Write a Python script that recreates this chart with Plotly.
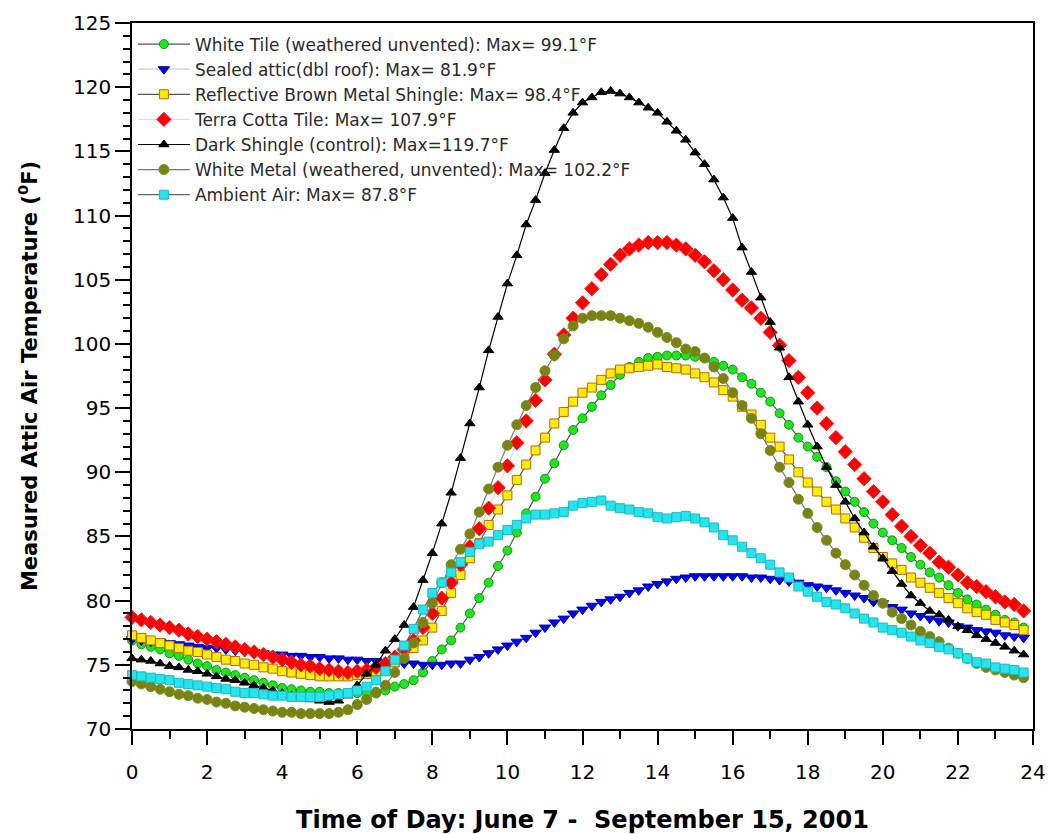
import plotly.graph_objects as go

# Time of day, 15-minute readings
hours = [h / 4 for h in range(96)]

white_tile = [
    76.9, 76.6, 76.4, 76.2, 75.9, 75.7, 75.4, 75.1, 74.9, 74.6, 74.4, 74.2,
    74.0, 73.8, 73.6, 73.4, 73.2, 73.1, 73.0, 72.9, 72.9, 72.8, 72.8, 72.8,
    72.8, 72.8, 72.9, 73.0, 73.3, 73.5, 73.8, 74.4, 75.3, 76.2, 76.9, 77.9,
    79.0, 80.2, 81.4, 82.7, 83.9, 85.3, 86.8, 88.1, 89.5, 90.7, 92.1, 93.3,
    94.2, 95.1, 96.0, 96.8, 97.6, 98.2, 98.6, 98.9, 99.0, 99.1, 99.1, 99.1,
    99.0, 98.9, 98.6, 98.3, 98.0, 97.4, 96.9, 96.2, 95.5, 94.6, 93.7, 92.7,
    92.0, 91.2, 90.4, 89.3, 88.5, 87.7, 86.9, 86.0, 85.3, 84.7, 84.1, 83.4,
    82.8, 82.2, 81.8, 81.2, 80.6, 80.1, 79.7, 79.3, 78.9, 78.5, 78.3, 77.9,
]
sealed_attic = [
    77.0, 76.9, 76.8, 76.8, 76.7, 76.6, 76.5, 76.4, 76.3, 76.3, 76.2, 76.1,
    76.0, 76.0, 75.9, 75.8, 75.8, 75.7, 75.7, 75.6, 75.6, 75.5, 75.5, 75.4,
    75.4, 75.3, 75.3, 75.2, 75.2, 75.1, 75.1, 75.0, 75.0, 75.0, 75.1, 75.1,
    75.4, 75.6, 75.9, 76.2, 76.5, 76.8, 77.1, 77.5, 77.9, 78.3, 78.6, 79.0,
    79.3, 79.6, 79.9, 80.1, 80.3, 80.6, 80.8, 81.1, 81.3, 81.5, 81.7, 81.8,
    81.9, 81.9, 81.9, 81.9, 81.9, 81.9, 81.8, 81.8, 81.7, 81.6, 81.5, 81.4,
    81.2, 81.1, 81.0, 80.8, 80.6, 80.4, 80.2, 79.9, 79.8, 79.5, 79.3, 79.0,
    78.8, 78.6, 78.4, 78.3, 78.0, 77.9, 77.7, 77.6, 77.5, 77.3, 77.2, 77.1,
]
reflective_brown = [
    77.3, 77.1, 76.9, 76.7, 76.5, 76.3, 76.1, 76.0, 75.8, 75.6, 75.4, 75.3,
    75.1, 75.0, 74.8, 74.7, 74.5, 74.4, 74.3, 74.2, 74.1, 74.1, 74.1, 74.1,
    74.2, 74.3, 74.5, 74.8, 75.2, 75.7, 76.3, 76.9, 77.9, 79.2, 80.6, 82.0,
    83.3, 84.5, 85.9, 87.1, 88.2, 89.4, 90.6, 91.7, 92.7, 93.8, 94.7, 95.5,
    96.2, 96.6, 97.2, 97.7, 98.0, 98.1, 98.2, 98.3, 98.4, 98.2, 98.1, 98.0,
    97.7, 97.4, 97.0, 96.4, 95.9, 95.1, 94.5, 93.7, 92.7, 92.0, 91.0, 90.0,
    89.2, 88.5, 87.7, 87.1, 86.4, 85.7, 84.9, 84.1, 83.4, 82.9, 82.4, 81.8,
    81.4, 81.0, 80.6, 80.2, 79.8, 79.4, 79.1, 78.9, 78.5, 78.3, 78.1, 77.7,
]
terra_cotta = [
    78.7, 78.5, 78.3, 78.1, 77.9, 77.7, 77.4, 77.2, 77.0, 76.8, 76.6, 76.4,
    76.2, 76.0, 75.8, 75.6, 75.4, 75.2, 75.0, 74.9, 74.7, 74.6, 74.5, 74.4,
    74.5, 74.6, 74.8, 75.1, 75.6, 76.2, 76.9, 77.9, 79.0, 80.2, 81.4, 82.8,
    84.2, 85.6, 87.2, 88.8, 90.5, 92.3, 94.0, 95.6, 97.2, 99.2, 100.7, 102.0,
    103.2, 104.3, 105.4, 106.2, 106.9, 107.4, 107.7, 107.9, 107.9, 107.9, 107.7, 107.4,
    106.9, 106.4, 105.7, 105.0, 104.2, 103.4, 102.8, 102.0, 100.9, 99.9, 98.7, 97.4,
    96.2, 95.0, 93.8, 92.7, 91.6, 90.6, 89.5, 88.5, 87.7, 86.7, 85.8, 85.0,
    84.3, 83.7, 83.0, 82.6, 82.0, 81.4, 81.1, 80.7, 80.3, 79.9, 79.7, 79.2,
]
dark_shingle = [
    75.5, 75.4, 75.3, 75.1, 74.9, 74.8, 74.6, 74.5, 74.3, 74.1, 73.9, 73.8,
    73.6, 73.4, 73.2, 73.0, 72.8, 72.6, 72.5, 72.3, 72.2, 72.1, 72.2, 72.6,
    73.4, 74.3, 75.0, 76.1, 77.0, 78.1, 79.5, 81.6, 83.7, 86.0, 88.4, 91.1,
    93.8, 96.6, 99.5, 102.1, 104.7, 106.9, 109.3, 111.2, 113.3, 115.1, 116.8, 118.0,
    118.8, 119.2, 119.6, 119.7, 119.5, 119.2, 118.8, 118.4, 118.0, 117.3, 116.6, 115.9,
    114.9, 114.0, 112.8, 111.4, 109.8, 107.5, 105.6, 103.6, 101.7, 99.7, 97.4, 95.5,
    93.7, 92.0, 90.4, 89.0, 87.7, 86.4, 85.3, 84.2, 83.3, 82.3, 81.3, 80.4,
    79.8, 79.2, 78.9, 78.5, 78.0, 77.7, 77.3, 77.0, 76.7, 76.4, 76.1, 75.8,
]
white_metal = [
    73.7, 73.5, 73.3, 73.1, 72.9, 72.7, 72.6, 72.4, 72.3, 72.1, 72.0, 71.8,
    71.7, 71.6, 71.5, 71.4, 71.3, 71.3, 71.2, 71.2, 71.2, 71.2, 71.3, 71.5,
    71.9, 72.3, 72.8, 73.4, 74.4, 75.5, 76.7, 78.3, 79.8, 81.4, 82.8, 84.0,
    85.2, 86.9, 88.7, 90.4, 92.1, 93.7, 95.2, 96.6, 97.9, 99.1, 100.4, 101.4,
    102.0, 102.2, 102.2, 102.2, 102.0, 101.8, 101.6, 101.3, 100.9, 100.5, 100.1, 99.6,
    99.4, 98.9, 98.2, 97.3, 96.2, 95.2, 94.2, 93.0, 91.7, 90.4, 89.2, 87.9,
    86.8, 85.7, 84.7, 83.7, 82.8, 82.0, 81.2, 80.4, 79.8, 79.1, 78.6, 78.1,
    77.6, 77.2, 76.8, 76.3, 75.9, 75.5, 75.1, 74.8, 74.6, 74.4, 74.2, 74.0,
]
ambient_air = [
    74.2, 74.1, 74.0, 73.9, 73.8, 73.6, 73.5, 73.4, 73.3, 73.2, 73.1, 72.9,
    72.8, 72.8, 72.7, 72.6, 72.6, 72.5, 72.5, 72.5, 72.5, 72.6, 72.7, 72.8,
    73.0, 73.3, 73.8, 74.5, 75.4, 76.5, 77.8, 79.3, 80.6, 81.4, 82.2, 83.0,
    83.8, 84.4, 84.6, 85.1, 85.5, 85.9, 86.4, 86.7, 86.7, 86.8, 86.9, 87.4,
    87.6, 87.7, 87.8, 87.4, 87.2, 87.1, 86.9, 86.8, 86.5, 86.4, 86.5, 86.6,
    86.4, 86.1, 85.7, 85.1, 84.7, 84.2, 83.7, 83.3, 82.8, 82.2, 81.8, 81.1,
    80.7, 80.3, 79.9, 79.7, 79.4, 79.0, 78.6, 78.3, 77.9, 77.7, 77.5, 77.2,
    76.9, 76.7, 76.4, 76.2, 75.9, 75.5, 75.2, 75.1, 74.8, 74.7, 74.6, 74.4,
]

series_names = [
    "White Tile (weathered unvented): Max= 99.1°F",
    "Sealed attic(dbl roof): Max= 81.9°F",
    "Reflective Brown Metal Shingle: Max= 98.4°F",
    "Terra Cotta Tile: Max= 107.9°F",
    "Dark Shingle (control): Max=119.7°F",
    "White Metal (weathered, unvented): Max= 102.2°F",
    "Ambient Air: Max= 87.8°F",
]
series_values = [white_tile, sealed_attic, reflective_brown, terra_cotta,
                 dark_shingle, white_metal, ambient_air]

styles = [
    dict(symbol="circle", size=9, color="#1ee61e", edge="#109a10", line="#555555"),
    dict(symbol="triangle-down", size=10, color="#0000ff", edge="#0000b0", line="#cfcfcf"),
    dict(symbol="square", size=9, color="#ffee00", edge="#b86a00", line="#555555"),
    dict(symbol="diamond", size=11, color="#ff0000", edge="#ff2020", line="#dedede"),
    dict(symbol="triangle-up", size=9, color="#000000", edge="#000000", line="#000000"),
    dict(symbol="circle", size=10, color="#808010", edge="#5e9a20", line="#7a7a7a"),
    dict(symbol="square", size=9, color="#22e5ee", edge="#20b8c0", line="#666666"),
]

FONT = "DejaVu Sans, Verdana, sans-serif"

fig = go.Figure()
for name, vals, st in zip(series_names, series_values, styles):
    fig.add_trace(go.Scatter(
        x=hours, y=vals, name=name, mode="lines+markers",
        line=dict(color=st["line"], width=1.2),
        marker=dict(symbol=st["symbol"], size=st["size"], color=st["color"],
                    line=dict(color=st["edge"], width=1)),
        cliponaxis=False,
    ))

fig.update_layout(
    width=1049, height=834,
    margin=dict(l=132, r=16, t=23, b=105),
    paper_bgcolor="white", plot_bgcolor="white",
    font=dict(family=FONT, color="black"),
    showlegend=True,
    legend=dict(
        x=0.001, y=0.995, xanchor="left", yanchor="top",
        bgcolor="rgba(0,0,0,0)", borderwidth=0,
        font=dict(family=FONT, size=17, color="#2a2a2a"),
        itemwidth=52, tracegroupgap=0,
    ),
)

fig.update_xaxes(
    range=[0, 24], tickmode="array", tickvals=list(range(0, 25, 2)),
    ticks="outside", ticklen=14, tickwidth=1.5, tickcolor="black",
    minor=dict(dtick=1, ticks="outside", ticklen=8, tickwidth=1.5, tickcolor="black"),
    showline=True, linecolor="black", linewidth=1.5, mirror=True,
    showgrid=False, zeroline=False,
    tickfont=dict(family=FONT, size=20, color="black"),
    ticklabelstandoff=10,
    title=dict(text="<b>Time of Day: June 7 -  September 15, 2001</b>",
               font=dict(family=FONT, size=24, color="black"), standoff=28),
    automargin=False,
)
fig.update_yaxes(
    range=[70, 125], tickmode="array", tickvals=list(range(70, 126, 5)),
    ticks="outside", ticklen=15, tickwidth=1.5, tickcolor="black",
    minor=dict(dtick=1, ticks="outside", ticklen=7, tickwidth=1.5, tickcolor="black"),
    showline=True, linecolor="black", linewidth=1.5, mirror=True,
    showgrid=False, zeroline=False,
    tickfont=dict(family=FONT, size=20, color="black"),
    title=dict(text="<b>Measured Attic Air Temperature (<sup>0</sup>F)</b>",
               font=dict(family=FONT, size=21, color="black"), standoff=30),
    automargin=False,
)

fig.write_html(
    "out.html",
    config={"displayModeBar": False},
    post_script="document.body.style.margin='0';document.body.style.overflow='hidden';",
)
